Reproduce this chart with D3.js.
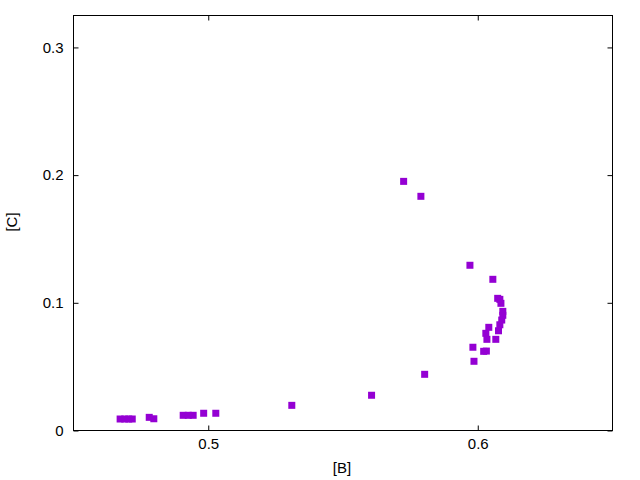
<!DOCTYPE html>
<html>
<head>
<meta charset="utf-8">
<script src="https://cdn.jsdelivr.net/npm/d3@7"></script>
<style>
	body { margin: 0; background: #fff; }
	text { font-family: "Liberation Sans", Arial, sans-serif; font-size: 15px; fill: #000; }
</style>
</head>
<body>
<svg id="chart" width="640" height="480"></svg>
<script>
"use strict";

// values
var bValues = [0.4673, 0.4690, 0.4705, 0.4718, 0.4781, 0.4798, 0.4907, 0.4926, 0.4944,
	0.4983, 0.5028, 0.5310, 0.5606, 0.5725, 0.5789, 0.5803, 0.5971, 0.6056, 0.6074,
	0.6082, 0.6086, 0.6093, 0.6093, 0.6089, 0.6082, 0.6077, 0.6041, 0.6030, 0.6034,
	0.6067, 0.5982, 0.6022, 0.6032, 0.5986];
var cValues = [0.0090, 0.0090, 0.0090, 0.0090, 0.0103, 0.0092, 0.0119, 0.0119, 0.0119,
	0.0135, 0.0135, 0.0197, 0.0276, 0.1951, 0.1834, 0.0440, 0.1294, 0.1184, 0.1035,
	0.1027, 0.0996, 0.0933, 0.0902, 0.0865, 0.0828, 0.0781, 0.0808, 0.0761, 0.0714,
	0.0714, 0.0652, 0.0620, 0.0622, 0.0542];
var xTicks = [0.5, 0.6];
var yTicks = [0, 0.1, 0.2, 0.3];
var xLabel = "[B]", yLabel = "[C]";

var pLeft = 73.5, pRight = 612.5, pTop = 15.5, pBottom = 430.5;
var svg = d3.select('#chart');

var x = d3.scaleLinear().domain([0.45, 0.65]).range([pLeft, pRight]);
var y = d3.scaleLinear().domain([0, 0.325]).range([pBottom, pTop]);

var tickLen = 5;

// Draw axes with inward ticks, mirrored on the opposite side
function styleAxis(g) {
	g.select('.domain').remove();
	g.selectAll('.tick line').attr('stroke', '#000').attr('stroke-width', 1);
	g.selectAll('.tick text').attr('font-size', 15)
		.attr('font-family', '"Liberation Sans", Arial, sans-serif').attr('fill', '#000');
}

svg.append('g').attr('transform', 'translate(0,' + pBottom + ')')
	.call(d3.axisBottom(x).tickValues(xTicks).tickSizeInner(-tickLen).tickSizeOuter(0)
		.tickPadding(8).tickFormat(d3.format('')))
	.call(styleAxis);
svg.append('g').attr('transform', 'translate(0,' + pTop + ')')
	.call(d3.axisTop(x).tickValues(xTicks).tickSizeInner(-tickLen).tickSizeOuter(0)
		.tickFormat(''))
	.call(styleAxis);
svg.append('g').attr('transform', 'translate(' + pLeft + ',0)')
	.call(d3.axisLeft(y).tickValues(yTicks).tickSizeInner(-tickLen).tickSizeOuter(0)
		.tickPadding(10).tickFormat(d3.format('')))
	.call(styleAxis);
svg.append('g').attr('transform', 'translate(' + pRight + ',0)')
	.call(d3.axisRight(y).tickValues(yTicks).tickSizeInner(-tickLen).tickSizeOuter(0)
		.tickFormat(''))
	.call(styleAxis);

// frame
svg.append('rect').attr('x', pLeft).attr('y', pTop)
	.attr('width', pRight - pLeft).attr('height', pBottom - pTop)
	.attr('fill', 'none').attr('stroke', '#000').attr('stroke-width', 1);

// points
var sz = 7;
svg.append('g').selectAll('rect.pt').data(bValues).enter().append('rect')
	.attr('class', 'pt')
	.attr('x', function(d) { return x(d) - sz / 2; })
	.attr('y', function(d, i) { return y(cValues[i]) - sz / 2; })
	.attr('width', sz).attr('height', sz)
	.attr('fill', '#9400d3');

// axis labels
svg.append('text').attr('x', 342).attr('y', 473).attr('text-anchor', 'middle').text(xLabel);
svg.append('text').attr('transform', 'translate(17,222) rotate(-90)')
	.attr('text-anchor', 'middle').text(yLabel);
</script>
</body>
</html>
